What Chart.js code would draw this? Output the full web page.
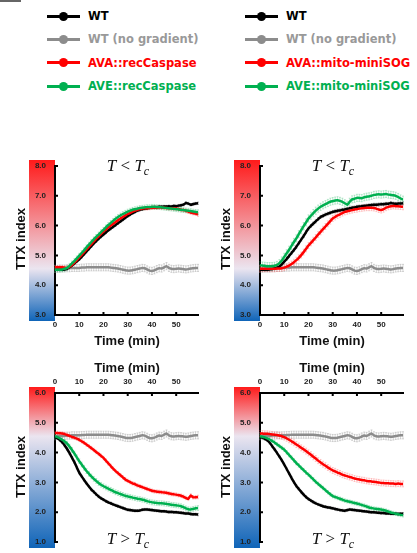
<!DOCTYPE html>
<html lang="en">
<head>
  <meta charset="UTF-8">
  <title>TTX index time course</title>
  <style>
    * { margin: 0; padding: 0; box-sizing: border-box; }
    body { width: 417px; height: 553px; background: #fff; position: relative; overflow: hidden; font-family: 'Liberation Sans', Arial, sans-serif; }
    canvas { position: absolute; }
    .corner { position: absolute; left: 0; top: 0; width: 21px; height: 1.5px; background: #666; }
    .legend { position: absolute; top: 4.5px; font-family: 'DejaVu Sans', sans-serif; font-weight: 700; font-size: 11.5px; }
    .legend div { height: 23.3px; display: flex; align-items: center; white-space: nowrap; }
    .legend .mk { position: relative; width: 33px; height: 3px; margin-right: 8px; flex: none; }
    .legend .mk::after { content: ''; position: absolute; left: 12px; top: -3px; width: 9px; height: 9px; border-radius: 50%; background: inherit; }
    .lbl { position: absolute; transform: translate(-50%, -50%); white-space: nowrap; }
    .axt { font-weight: 700; font-size: 13px; color: #111; }
    .ytl { transform: translate(-50%, -50%) rotate(-90deg); }
    .ttl { font-family: 'Liberation Serif', serif; font-size: 17px; color: #111; }
    .ttl sub { font-size: 12px; vertical-align: -4px; }
  </style>
  <script src="https://cdn.jsdelivr.net/npm/chart.js"></script>
</head>
<body>
  <div class="corner"></div>

  <div class="legend" style="left:47px">
    <div style="color:#000"><span class="mk" style="background:#000"></span>WT</div>
    <div style="color:#999"><span class="mk" style="background:#8c8c8c"></span>WT (no gradient)</div>
    <div style="color:#ff0000"><span class="mk" style="background:#ff0000"></span>AVA::recCaspase</div>
    <div style="color:#00b050"><span class="mk" style="background:#00b050"></span>AVE::recCaspase</div>
  </div>
  <div class="legend" style="left:245px">
    <div style="color:#000"><span class="mk" style="background:#000"></span>WT</div>
    <div style="color:#999"><span class="mk" style="background:#8c8c8c"></span>WT (no gradient)</div>
    <div style="color:#ff0000"><span class="mk" style="background:#ff0000"></span>AVA::mito-miniSOG</div>
    <div style="color:#00b050"><span class="mk" style="background:#00b050"></span>AVE::mito-miniSOG</div>
  </div>

  <canvas id="tl" width="210" height="200" style="left:0;top:150px"></canvas>
  <canvas id="tr" width="207" height="200" style="left:210px;top:150px"></canvas>
  <canvas id="bl" width="210" height="200" style="left:0;top:350px"></canvas>
  <canvas id="br" width="207" height="200" style="left:210px;top:350px"></canvas>

  <div class="lbl ttl" style="left:128px;top:167px"><i>T</i> &lt; <i>T</i><sub><i>c</i></sub></div>
  <div class="lbl ttl" style="left:333px;top:167px"><i>T</i> &lt; <i>T</i><sub><i>c</i></sub></div>
  <div class="lbl ttl" style="left:128px;top:540px"><i>T</i> &gt; <i>T</i><sub><i>c</i></sub></div>
  <div class="lbl ttl" style="left:333px;top:540px"><i>T</i> &gt; <i>T</i><sub><i>c</i></sub></div>

  <div class="lbl axt ytl" style="left:20px;top:239px">TTX index</div>
  <div class="lbl axt ytl" style="left:225px;top:239px">TTX index</div>
  <div class="lbl axt ytl" style="left:20px;top:467px">TTX index</div>
  <div class="lbl axt ytl" style="left:225px;top:467px">TTX index</div>

  <div class="lbl axt" style="left:127px;top:340px">Time (min)</div>
  <div class="lbl axt" style="left:332px;top:340px">Time (min)</div>
  <div class="lbl axt" style="left:127px;top:367px">Time (min)</div>
  <div class="lbl axt" style="left:332px;top:367px">Time (min)</div>

  <script>
// time axis (min)
const minutes = [0,1,2,3,4,5,6,7,8,9,10,11,12,13,14,15,16,17,18,19,20,21,22,23,24,25,26,27,28,29,
  30,31,32,33,34,35,36,37,38,39,40,41,42,43,44,45,46,47,48,49,50,51,52,53,54,55,56,57,58,59];
const xTicks = [0, 10, 20, 30, 40, 50];
const yTicksWarm = [3, 4, 5, 6, 7, 8];
const yTicksCold = [1, 2, 3, 4, 5, 6];

// WT (no gradient) control, same in every panel
const grayCtrl = [4.55,4.55,4.56,4.56,4.56,4.57,4.57,4.58,4.58,4.58,
  4.58,4.59,4.59,4.60,4.60,4.60,4.60,4.60,4.60,4.60,
  4.60,4.60,4.60,4.59,4.58,4.57,4.56,4.54,4.52,4.50,
  4.49,4.49,4.50,4.52,4.54,4.56,4.58,4.57,4.53,4.49,
  4.48,4.50,4.54,4.57,4.56,4.60,4.64,4.58,4.55,4.54,
  4.55,4.56,4.55,4.54,4.53,4.54,4.56,4.57,4.58,4.58];

// T < Tc, recCaspase
const wtWarmCasp = [4.52,4.52,4.52,4.52,4.53,4.55,4.60,4.66,4.73,4.80,
  4.87,4.95,5.04,5.13,5.22,5.31,5.40,5.48,5.56,5.63,
  5.70,5.77,5.84,5.90,5.96,6.02,6.08,6.14,6.20,6.26,
  6.32,6.37,6.42,6.46,6.50,6.53,6.55,6.57,6.58,6.60,
  6.61,6.62,6.62,6.63,6.63,6.64,6.64,6.65,6.64,6.66,
  6.65,6.67,6.68,6.70,6.76,6.74,6.70,6.72,6.74,6.75];
const avaWarmCasp = [4.60,4.60,4.60,4.60,4.59,4.58,4.62,4.68,4.76,4.84,
  4.93,5.02,5.11,5.20,5.29,5.38,5.47,5.56,5.64,5.72,
  5.80,5.87,5.94,6.00,6.06,6.12,6.18,6.24,6.29,6.34,
  6.39,6.43,6.47,6.50,6.53,6.56,6.57,6.58,6.58,6.59,
  6.60,6.60,6.60,6.61,6.60,6.60,6.59,6.58,6.58,6.57,
  6.57,6.55,6.53,6.52,6.50,6.47,6.44,6.42,6.40,6.37];
const aveWarmCasp = [4.52,4.52,4.52,4.53,4.55,4.58,4.65,4.73,4.81,4.90,
  4.99,5.08,5.17,5.27,5.36,5.45,5.54,5.62,5.70,5.78,
  5.86,5.94,6.02,6.09,6.16,6.23,6.29,6.34,6.39,6.43,
  6.47,6.50,6.53,6.55,6.57,6.59,6.60,6.61,6.62,6.62,
  6.63,6.63,6.62,6.62,6.61,6.60,6.59,6.58,6.57,6.56,
  6.55,6.54,6.53,6.52,6.51,6.50,6.49,6.47,6.46,6.45];

// T < Tc, mito-miniSOG
const wtWarmSog = [4.52,4.52,4.52,4.52,4.53,4.54,4.56,4.59,4.63,4.70,
  4.79,4.88,4.98,5.08,5.18,5.29,5.41,5.53,5.65,5.78,
  5.90,5.99,6.07,6.14,6.22,6.29,6.33,6.37,6.40,6.43,
  6.46,6.48,6.50,6.51,6.53,6.54,6.56,6.58,6.60,6.61,
  6.63,6.64,6.65,6.66,6.67,6.68,6.69,6.70,6.70,6.71,
  6.72,6.72,6.73,6.73,6.76,6.74,6.73,6.74,6.74,6.75];
const avaWarmSog = [4.55,4.55,4.55,4.55,4.55,4.55,4.55,4.56,4.56,4.57,
  4.59,4.62,4.66,4.71,4.77,4.84,4.92,5.01,5.11,5.22,
  5.33,5.42,5.51,5.60,5.70,5.79,5.88,5.97,6.06,6.15,
  6.24,6.29,6.34,6.38,6.42,6.46,6.48,6.50,6.52,6.54,
  6.55,6.57,6.58,6.59,6.60,6.60,6.60,6.59,6.57,6.54,
  6.52,6.55,6.60,6.63,6.65,6.66,6.65,6.65,6.64,6.63];
const aveWarmSog = [4.67,4.66,4.65,4.64,4.64,4.64,4.65,4.68,4.74,4.83,
  4.95,5.07,5.19,5.32,5.45,5.57,5.71,5.85,5.98,6.11,
  6.24,6.33,6.42,6.50,6.57,6.63,6.68,6.72,6.76,6.80,
  6.82,6.84,6.85,6.83,6.80,6.75,6.70,6.80,6.88,6.90,
  6.93,6.93,6.92,6.95,6.97,6.98,7.00,7.03,7.04,7.05,
  7.04,7.05,7.06,7.04,7.03,7.02,7.00,6.96,6.91,6.87];

// T > Tc, recCaspase
const wtColdCasp = [4.52,4.48,4.42,4.34,4.24,4.12,3.98,3.83,3.68,3.50,
  3.33,3.20,3.08,2.97,2.86,2.76,2.68,2.60,2.53,2.47,
  2.42,2.37,2.33,2.30,2.26,2.23,2.20,2.17,2.14,2.11,
  2.08,2.07,2.06,2.05,2.05,2.06,2.08,2.09,2.09,2.08,
  2.07,2.06,2.05,2.04,2.03,2.03,2.02,2.01,2.01,2.00,
  2.00,1.99,1.98,1.97,1.96,1.96,1.94,1.93,1.93,1.92];
const avaColdCasp = [4.66,4.66,4.65,4.64,4.62,4.59,4.56,4.53,4.50,4.47,
  4.43,4.38,4.33,4.27,4.21,4.15,4.09,4.02,3.96,3.89,
  3.82,3.73,3.64,3.55,3.46,3.38,3.31,3.24,3.17,3.10,
  3.05,3.01,2.97,2.94,2.90,2.87,2.84,2.81,2.78,2.75,
  2.72,2.70,2.69,2.68,2.67,2.66,2.65,2.63,2.61,2.60,
  2.59,2.57,2.55,2.52,2.48,2.45,2.56,2.50,2.50,2.51];
const aveColdCasp = [4.55,4.52,4.48,4.43,4.37,4.30,4.20,4.09,3.97,3.84,
  3.71,3.60,3.49,3.38,3.29,3.20,3.12,3.05,2.98,2.92,
  2.87,2.83,2.79,2.75,2.71,2.67,2.64,2.61,2.58,2.55,
  2.53,2.51,2.49,2.47,2.45,2.44,2.42,2.40,2.37,2.35,
  2.33,2.32,2.31,2.30,2.30,2.29,2.28,2.27,2.25,2.24,
  2.23,2.22,2.20,2.17,2.13,2.10,2.09,2.11,2.13,2.14];

// T > Tc, mito-miniSOG
const wtColdSog = [4.52,4.50,4.46,4.41,4.33,4.22,4.11,3.99,3.87,3.74,
  3.60,3.45,3.30,3.15,3.01,2.88,2.78,2.68,2.59,2.51,
  2.44,2.39,2.34,2.30,2.26,2.23,2.20,2.18,2.16,2.15,
  2.13,2.11,2.09,2.07,2.06,2.05,2.07,2.09,2.08,2.07,
  2.06,2.05,2.04,2.03,2.02,2.01,2.00,2.00,1.99,1.98,
  1.97,1.97,1.96,1.96,1.95,1.95,1.95,1.94,1.95,1.95];
const avaColdSog = [4.64,4.64,4.63,4.63,4.62,4.61,4.60,4.59,4.57,4.55,
  4.52,4.48,4.43,4.38,4.33,4.27,4.22,4.16,4.11,4.05,
  3.99,3.93,3.86,3.80,3.73,3.67,3.61,3.56,3.50,3.45,
  3.40,3.37,3.33,3.30,3.26,3.23,3.21,3.18,3.16,3.13,
  3.11,3.10,3.08,3.07,3.05,3.04,3.03,3.02,3.01,3.00,
  2.98,2.98,2.97,2.97,2.96,2.96,2.95,2.96,2.95,2.95];
const aveColdSog = [4.55,4.53,4.51,4.48,4.44,4.39,4.34,4.28,4.22,4.16,
  4.10,4.01,3.92,3.83,3.74,3.65,3.57,3.49,3.41,3.33,
  3.26,3.18,3.10,3.02,2.95,2.88,2.81,2.74,2.67,2.60,
  2.54,2.51,2.48,2.45,2.42,2.39,2.37,2.35,2.33,2.31,
  2.29,2.27,2.24,2.22,2.19,2.16,2.14,2.12,2.11,2.10,
  2.09,2.07,2.05,2.02,1.99,1.97,1.95,1.93,1.91,1.90];

// rough SEM per series: [WT, no gradient, AVA, AVE]
const semWarmCasp = [0.04, 0.12, 0.06, 0.08];
const semWarmSog = [0.05, 0.12, 0.10, 0.12];
const semColdCasp = [0.04, 0.12, 0.06, 0.08];
const semColdSog = [0.04, 0.12, 0.10, 0.06];

const colors = ['#000000', '#8c8c8c', '#ff0000', '#00b050'];
const errColors = ['rgba(0,0,0,0.3)', 'rgba(140,140,140,0.35)', 'rgba(255,60,60,0.25)', 'rgba(0,176,80,0.25)'];

// colour bar, error bars, inward ticks
const panelDecor = {
  id: 'panelDecor',
  beforeDraw(chart) {
    const { ctx, chartArea: a, scales: { y } } = chart;
    const top = a.top - 6, bottom = a.bottom + 6;
    const g = ctx.createLinearGradient(0, top, 0, bottom);
    const w = (y.getPixelForValue(4.55) - top) / (bottom - top);
    g.addColorStop(0, '#ff1a1a');
    g.addColorStop(w, '#ebe5f0');
    g.addColorStop(1, '#0f64b8');
    ctx.save();
    ctx.fillStyle = g;
    ctx.fillRect(a.left - 26, top, 26, bottom - top);
    ctx.restore();
  },
  beforeDatasetsDraw(chart) {
    const { ctx, scales: { x, y } } = chart;
    ctx.save();
    ctx.lineWidth = 1;
    chart.data.datasets.forEach(ds => {
      ctx.strokeStyle = ds.errColor;
      ctx.beginPath();
      ds.data.forEach(p => {
        const px = x.getPixelForValue(p.x);
        const y1 = y.getPixelForValue(p.y + ds.sem), y2 = y.getPixelForValue(p.y - ds.sem);
        ctx.moveTo(px, y1); ctx.lineTo(px, y2);
        ctx.moveTo(px - 1, y1); ctx.lineTo(px + 1, y1);
        ctx.moveTo(px - 1, y2); ctx.lineTo(px + 1, y2);
      });
      ctx.stroke();
    });
    ctx.restore();
  },
  afterDraw(chart) {
    const { ctx, chartArea: a, scales: { x, y } } = chart;
    const onTop = x.options.position === 'top';
    const base = onTop ? a.top : a.bottom;
    const dir = onTop ? 1 : -1;
    ctx.save();
    ctx.strokeStyle = '#000';
    ctx.lineWidth = 2;
    ctx.beginPath();
    xTicks.slice(1).forEach(t => {
      const px = x.getPixelForValue(t);
      ctx.moveTo(px, base); ctx.lineTo(px, base + dir * 3);
    });
    y.ticks.forEach(t => {
      const py = y.getPixelForValue(t.value);
      if (Math.abs(py - base) < 1) return;
      ctx.moveTo(a.left, py); ctx.lineTo(a.left + 3, py);
    });
    ctx.stroke();
    ctx.restore();
  }
};

function makePanel(id, series, sems, yTicks, cold, yWidth, rightPad) {
  const names = ['WT', 'WT (no gradient)', 'AVA', 'AVE'];
  const order = [3, 4, 2, 1];
  const datasets = series.map((s, i) => ({
    label: names[i],
    data: minutes.map((t, k) => ({ x: t, y: s[k] })),
    borderColor: colors[i],
    borderWidth: 2.5,
    pointRadius: 0,
    tension: 0.15,
    order: order[i],
    sem: sems[i],
    errColor: errColors[i]
  }));
  const tickFont = { family: "'Liberation Sans', Arial, sans-serif", size: 8, weight: 'bold' };
  new Chart(document.getElementById(id), {
    type: 'line',
    data: { datasets },
    plugins: [panelDecor],
    options: {
      responsive: false,
      animation: false,
      layout: { padding: cold ? { top: 0, bottom: 8, right: rightPad, left: 0 } : { top: 16, bottom: 0, right: rightPad, left: 0 } },
      plugins: { legend: { display: false }, tooltip: { enabled: false } },
      scales: {
        x: {
          type: 'linear',
          position: cold ? 'top' : 'bottom',
          min: 0, max: 59,
          afterBuildTicks: s => { s.ticks = xTicks.map(v => ({ value: v })); },
          afterFit: s => { s.height = cold ? 43 : 35; },
          grid: { display: false, drawTicks: false },
          border: { color: '#000', width: 2 },
          ticks: { font: tickFont, color: '#222', padding: cold ? 6 : 5, maxRotation: 0, autoSkip: false }
        },
        y: {
          min: yTicks[0], max: yTicks[yTicks.length - 1],
          afterBuildTicks: s => { s.ticks = yTicks.map(v => ({ value: v })); },
          afterFit: s => { s.width = yWidth; s.paddingTop = 0; s.paddingBottom = 0; },
          grid: { display: false, drawTicks: false },
          border: { color: '#000', width: 2 },
          ticks: { font: tickFont, color: '#222', padding: 9, callback: v => v.toFixed(1) }
        }
      }
    }
  });
}

makePanel('tl', [wtWarmCasp, grayCtrl, avaWarmCasp, aveWarmCasp], semWarmCasp, yTicksWarm, false, 55, 12);
makePanel('tr', [wtWarmSog, grayCtrl, avaWarmSog, aveWarmSog], semWarmSog, yTicksWarm, false, 50, 14);
makePanel('bl', [wtColdCasp, grayCtrl, avaColdCasp, aveColdCasp], semColdCasp, yTicksCold, true, 55, 12);
makePanel('br', [wtColdSog, grayCtrl, avaColdSog, aveColdSog], semColdSog, yTicksCold, true, 50, 14);
  </script>
</body>
</html>
